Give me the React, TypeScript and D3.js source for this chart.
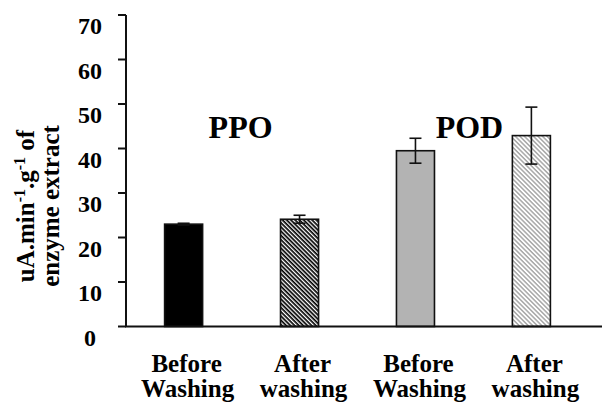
import React from "react";
import * as d3 from "d3";

// Enzyme activity before and after washing (PPO and POD)
const categories = ["PPO-before", "PPO-after", "POD-before", "POD-after"];
const labelLine1 = ["Before", "After", "Before", "After"];
const labelLine2 = ["Washing", "washing", "Washing", "washing"];
const values = [23.0, 24.1, 39.5, 42.9];
const errors = [0.2, 0.9, 2.8, 6.4];
const fills = ["#000000", "url(#hatchDark)", "#b3b3b3", "url(#hatchLight)"];
const yTicks = [0, 10, 20, 30, 40, 50, 60, 70];
const groupLabels = ["PPO", "POD"];
const groupValues = [31.5, 31.5];

const W = 608;
const H = 405;
const FONT = '"Liberation Serif", "DejaVu Serif", "Times New Roman", Times, serif';

export default function App() {
  const axisX = 126;
  const y = d3.scaleLinear().domain([0, 70]).range([326.5, 15]);
  const x = d3
    .scaleBand<string>()
    .domain(categories)
    .range([axisX, 589])
    .paddingInner(0.672)
    .paddingOuter(0.333);
  const bw = x.bandwidth();
  const cx = (i: number) => (x(categories[i]) as number) + bw / 2;
  const groupX = [(cx(0) + cx(1)) / 2 - 1, (cx(2) + cx(3)) / 2 - 4];
  const txt = { fontFamily: FONT, fontWeight: 700 } as React.CSSProperties;

  return (
    <svg
      width={W}
      height={H}
      style={{ position: "absolute", left: 0, top: 0, background: "#fff" }}
    >
      <defs>
        <pattern
          id="hatchDark"
          patternUnits="userSpaceOnUse"
          width={3}
          height={3}
          patternTransform="rotate(45)"
        >
          <rect width={3} height={3} fill="#fff" />
          <rect width={3} height={1.7} fill="#000" />
        </pattern>
        <pattern
          id="hatchLight"
          patternUnits="userSpaceOnUse"
          width={3.2}
          height={3.2}
          patternTransform="rotate(45)"
        >
          <rect width={3.2} height={3.2} fill="#fff" />
          <rect width={3.2} height={1.5} fill="#a8a8a8" />
        </pattern>
      </defs>

      {/* bars */}
      {values.map((v, i) => (
        <rect
          key={categories[i]}
          x={x(categories[i])}
          y={y(v)}
          width={bw}
          height={y(0) - y(v)}
          fill={fills[i]}
          stroke="#111"
          strokeWidth={1.6}
        />
      ))}

      {/* error bars */}
      {values.map((v, i) => (
        <g key={"err" + i} stroke="#111" strokeWidth={1.6}>
          <line x1={cx(i)} x2={cx(i)} y1={y(v + errors[i])} y2={y(v - errors[i])} />
          <line x1={cx(i) - 6} x2={cx(i) + 6} y1={y(v + errors[i])} y2={y(v + errors[i])} />
          <line x1={cx(i) - 6} x2={cx(i) + 6} y1={y(v - errors[i])} y2={y(v - errors[i])} />
        </g>
      ))}

      {/* axes */}
      <line x1={axisX} x2={axisX} y1={y(70)} y2={y(0)} stroke="#111" strokeWidth={2} />
      <line x1={axisX - 1} x2={602} y1={y(0)} y2={y(0)} stroke="#111" strokeWidth={2} />
      {yTicks.map((t) => (
        <g key={t}>
          <line x1={axisX - 8} x2={axisX} y1={y(t)} y2={y(t)} stroke="#111" strokeWidth={2} />
          <text x={90} y={y(t) + 19} textAnchor="middle" fontSize={24} fill="#000" style={txt}>
            {t}
          </text>
        </g>
      ))}

      {/* category labels */}
      {categories.map((c, i) => (
        <text key={c} textAnchor="middle" fontSize={25} fill="#000" style={txt}>
          <tspan x={cx(i) + 3} y={372}>
            {labelLine1[i]}
          </tspan>
          <tspan x={cx(i) + 4} y={397}>
            {labelLine2[i]}
          </tspan>
        </text>
      ))}

      {/* group labels */}
      {groupLabels.map((g, i) => (
        <text key={g} x={groupX[i]} y={y(groupValues[i]) - 48} textAnchor="middle" fontSize={32} fill="#000" style={txt}>
          {g}
        </text>
      ))}

      {/* y-axis title */}
      <g transform="translate(34,206) rotate(-90)">
        <text x={0} y={0} textAnchor="middle" fontSize={25} fill="#000" style={txt}>
          uA.min<tspan dy={-9} fontSize={16}>-1</tspan>
          <tspan dy={9}>.g</tspan>
          <tspan dy={-9} fontSize={16}>-1</tspan>
          <tspan dy={9}> of</tspan>
        </text>
        <text x={0} y={25} textAnchor="middle" fontSize={25} fill="#000" style={txt}>
          enzyme extract
        </text>
      </g>
    </svg>
  );
}
